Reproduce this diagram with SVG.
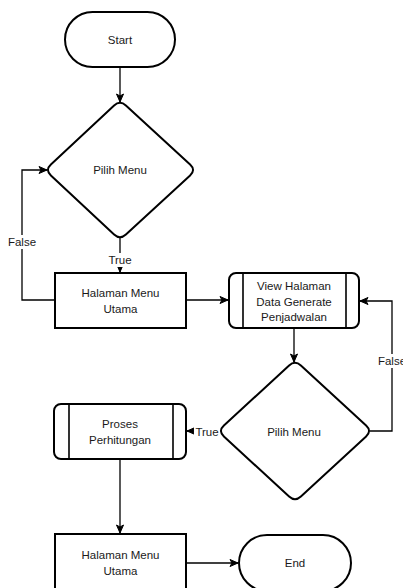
<svg xmlns="http://www.w3.org/2000/svg" width="403" height="588" viewBox="0 0 403 588">
<style>
.s{fill:#fff;stroke:#000;stroke-width:2}
.i{fill:none;stroke:#000;stroke-width:1.6}
.c{fill:none;stroke:#000;stroke-width:1.3}
.t{font-family:"Liberation Sans",Arial,sans-serif;font-size:11.5px;fill:#1a1a1a;text-anchor:middle;dominant-baseline:central}
.lb{fill:#fff}
</style>
<defs>
<marker id="a" markerWidth="10" markerHeight="10" refX="9" refY="5" orient="auto" markerUnits="userSpaceOnUse">
<path d="M1,1.5 L9,5 L1,8.5 L3,5 Z" fill="#000" stroke="#000" stroke-width="1"/>
</marker>
</defs>
<rect width="403" height="588" fill="#fff"/>
<g id="connectors">
<path class="c" d="M120,67 L120,102" marker-end="url(#a)"/>
<path class="c" d="M120,238 L120,272" marker-end="url(#a)"/>
<rect class="lb" x="106" y="253" width="28" height="14"/>
<text class="t" x="120" y="260">True</text>
<path class="c" d="M55,300 L22,300 L22,170 L47,170" marker-end="url(#a)"/>
<rect class="lb" x="6" y="235" width="32" height="14"/>
<text class="t" x="22" y="242">False</text>
<path class="c" d="M186,300 L228,300" marker-end="url(#a)"/>
<path class="c" d="M294,328 L294,362" marker-end="url(#a)"/>
<path class="c" d="M370,431 L392,431 L392,301 L360,301" marker-end="url(#a)"/>
<rect class="lb" x="376" y="354" width="32" height="14"/>
<text class="t" x="392" y="361">False</text>
<path class="c" d="M220,431 L187,431" marker-end="url(#a)"/>
<rect class="lb" x="194" y="424" width="26" height="14"/>
<text class="t" x="207" y="432">True</text>
<path class="c" d="M120,459 L120,533" marker-end="url(#a)"/>
<path class="c" d="M186,563 L238,563" marker-end="url(#a)"/>
</g>
<g id="start">
<rect class="s" x="65" y="12" width="110" height="55" rx="27.5"/>
<text class="t" x="120" y="40">Start</text>
</g>
<g id="pilih1">
<path class="s" d="M114.1,105.4 Q120,100 125.9,105.4 L190.1,164.6 Q196,170 190.1,175.4 L125.9,234.6 Q120,240 114.1,234.6 L50.9,175.4 Q45,170 50.9,164.6 Z"/>
<text class="t" x="120" y="170">Pilih Menu</text>
</g>
<g id="menu1">
<rect class="s" x="55" y="273" width="131" height="55"/>
<text class="t" x="120.5" y="293">Halaman Menu</text>
<text class="t" x="120.5" y="309">Utama</text>
</g>
<g id="view">
<rect class="s" x="229" y="273" width="130" height="55" rx="7"/>
<path class="i" d="M243,273 L243,328 M346,273 L346,328"/>
<text class="t" x="294" y="286">View Halaman</text>
<text class="t" x="294" y="302">Data Generate</text>
<text class="t" x="294" y="317">Penjadwalan</text>
</g>
<g id="pilih2">
<path class="s" d="M289.1,365.4 Q295,360 300.9,365.4 L366.1,425.6 Q372,431 366.1,436.4 L300.9,496.6 Q295,502 289.1,496.6 L223.9,436.4 Q218,431 223.9,425.6 Z"/>
<text class="t" x="294" y="432">Pilih Menu</text>
</g>
<g id="proses">
<rect class="s" x="54" y="404" width="132" height="55" rx="7"/>
<path class="i" d="M69,404 L69,459 M173,404 L173,459"/>
<text class="t" x="120" y="424">Proses</text>
<text class="t" x="120" y="440">Perhitungan</text>
</g>
<g id="menu2">
<rect class="s" x="55" y="534" width="131" height="62"/>
<text class="t" x="120.5" y="555">Halaman Menu</text>
<text class="t" x="120.5" y="571">Utama</text>
</g>
<g id="end">
<rect class="s" x="239" y="535" width="112" height="56" rx="28"/>
<text class="t" x="295" y="563">End</text>
</g>
</svg>
